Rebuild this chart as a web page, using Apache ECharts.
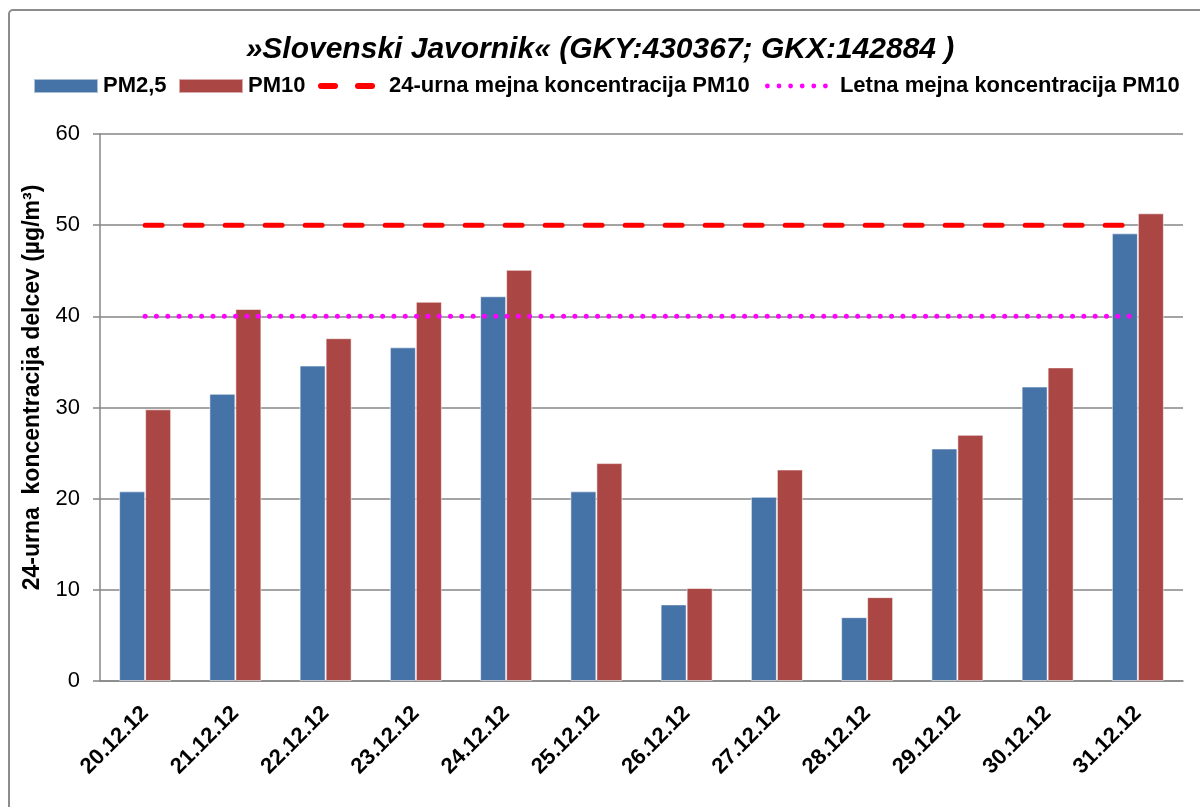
<!DOCTYPE html>
<html>
<head>
<meta charset="utf-8">
<script src="https://cdn.jsdelivr.net/npm/echarts@6/dist/echarts.min.js"></script>
<style>
  html, body { margin: 0; padding: 0; background: #fff; }
  #chart { width: 1200px; height: 807px; }
</style>
</head>
<body>
<div id="chart"></div>
<script>
// podatki
var days = ['20.12.12', '21.12.12', '22.12.12', '23.12.12', '24.12.12', '25.12.12',
            '26.12.12', '27.12.12', '28.12.12', '29.12.12', '30.12.12', '31.12.12'];
var pm25 = [20.8, 31.5, 34.6, 36.6, 42.2, 20.8, 8.4, 20.2, 7.0, 25.5, 32.3, 49.1];
var pm10 = [29.8, 40.8, 37.6, 41.6, 45.1, 23.9, 10.2, 23.2, 9.2, 27.0, 34.4, 51.3];
var limit24 = [50, 50, 50, 50, 50, 50, 50, 50, 50, 50, 50, 50];
var limitYear = [40, 40, 40, 40, 40, 40, 40, 40, 40, 40, 40, 40];
var yTicks = [0, 10, 20, 30, 40, 50, 60];

var font = '"Liberation Sans", Arial, sans-serif';
var gray = '#868686';

// ikone za legendo (crtkana in pikcasta crta)
var dashIcon = 'path://M3,0H17A3,3 0 0 1 17,6H3A3,3 0 0 1 3,0Z M40,0H54A3,3 0 0 1 54,6H40A3,3 0 0 1 40,0Z';
var dotIcon = 'path://';
for (var i = 0; i < 6; i++) {
  var cx = 2.4 + i * 11.6;
  dotIcon += 'M' + (cx + 2.4) + ',2.4A2.4,2.4 0 1 1 ' + (cx - 2.4) + ',2.4A2.4,2.4 0 1 1 ' + (cx + 2.4) + ',2.4Z ';
}

var myChart = echarts.init(document.getElementById('chart'));

function legendAt(left, name, icon, w, h, gap) {
  return {
    left: left,
    top: 75,
    padding: 0,
    icon: icon,
    itemWidth: w,
    itemHeight: h,
    data: [name],
    textStyle: {
      fontFamily: font, fontSize: 22, fontWeight: 'bold', color: '#000',
      padding: [0, 0, 0, gap]
    }
  };
}

var option = {
  animation: false,
  backgroundColor: '#fff',
  title: {
    text: '»Slovenski Javornik« (GKY:430367; GKX:142884 )',
    left: 'center',
    top: 30,
    textStyle: {
      fontFamily: font,
      fontSize: 30,
      fontWeight: 'bold',
      fontStyle: 'italic',
      color: '#000'
    }
  },
  legend: [
    legendAt(33, 'PM2,5', 'rect', 64, 14, 0),
    legendAt(178, 'PM10', 'rect', 64, 14, 0),
    legendAt(318, '24-urna mejna koncentracija PM10', dashIcon, 57, 6, 9),
    legendAt(765, 'Letna mejna koncentracija PM10', dotIcon, 63, 4.8, 7)
  ],
  graphic: [{
    type: 'rect',
    shape: { x: 9, y: 10, width: 1200, height: 820, r: 4 },
    style: { fill: 'none', stroke: '#8c8c8c', lineWidth: 2 },
    silent: true
  }],
  grid: {
    left: 100,
    right: 17,
    top: 134,
    bottom: 126
  },
  xAxis: {
    type: 'category',
    data: days,
    axisLine: { lineStyle: { color: gray, width: 1.5 } },
    axisTick: { length: 7, lineStyle: { color: gray, width: 1.5 } },
    axisLabel: {
      rotate: 45,
      margin: 29,
      interval: 0,
      fontFamily: font,
      fontSize: 22,
      fontWeight: 'bold',
      color: '#000'
    }
  },
  yAxis: {
    type: 'value',
    min: yTicks[0],
    max: yTicks[yTicks.length - 1],
    interval: 10,
    name: '24-urna  koncentracija delcev (µg/m³)',
    nameLocation: 'middle',
    nameGap: 46,
    nameTextStyle: {
      fontFamily: font,
      fontSize: 23,
      fontWeight: 'bold',
      color: '#000',
      padding: [0, 0, 0, 40]
    },
    axisLine: { show: true, lineStyle: { color: gray, width: 1.5 } },
    axisTick: { show: true, length: 7, lineStyle: { color: gray, width: 1.5 } },
    axisLabel: {
      margin: 20,
      fontFamily: font,
      fontSize: 22,
      color: '#000'
    },
    splitLine: { lineStyle: { color: gray, width: 1.5 } }
  },
  series: [
    {
      name: 'PM2,5',
      type: 'bar',
      data: pm25,
      barWidth: 26,
      barGap: '0%',
      itemStyle: { color: '#4572A7', borderColor: 'rgba(255,255,255,0.55)', borderWidth: 1 }
    },
    {
      name: 'PM10',
      type: 'bar',
      data: pm10,
      barWidth: 26,
      barGap: '0%',
      itemStyle: { color: '#AA4643', borderColor: 'rgba(255,255,255,0.55)', borderWidth: 1 }
    },
    {
      name: '24-urna mejna koncentracija PM10',
      type: 'line',
      data: limit24,
      symbol: 'none',
      z: 5,
      itemStyle: { color: '#FF0000' },
      lineStyle: { color: '#FF0000', width: 5, type: [17, 23], cap: 'round' }
    },
    {
      name: 'Letna mejna koncentracija PM10',
      type: 'line',
      data: limitYear,
      symbol: 'none',
      z: 5,
      itemStyle: { color: '#FF00FF' },
      lineStyle: { color: '#FF00FF', width: 5, type: [0.01, 11.3], cap: 'round' }
    }
  ]
};

myChart.setOption(option);
</script>
</body>
</html>
